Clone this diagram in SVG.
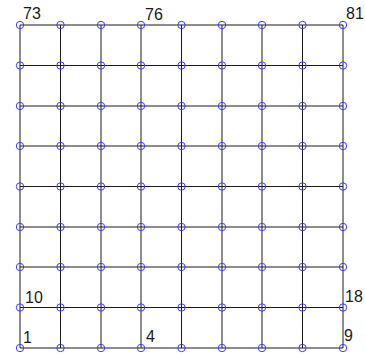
<svg xmlns="http://www.w3.org/2000/svg" width="365" height="356" viewBox="0 0 365 356">
<style>
.g{stroke:#1a1a1a;stroke-width:1;fill:none}
.n{fill:none;stroke:#3b3bff;stroke-width:1}
.t{font-family:"Liberation Sans",Arial,sans-serif;font-size:16px;fill:#1a1a1a}
</style>
<rect width="365" height="356" fill="#fff"/>
<g id="connectors">
<line class="g" x1="20" y1="25" x2="343" y2="25"/>
<line class="g" x1="20" y1="65.5" x2="343" y2="65.5"/>
<line class="g" x1="20" y1="106" x2="343" y2="106"/>
<line class="g" x1="20" y1="146" x2="343" y2="146"/>
<line class="g" x1="20" y1="186.5" x2="343" y2="186.5"/>
<line class="g" x1="20" y1="227" x2="343" y2="227"/>
<line class="g" x1="20" y1="267" x2="343" y2="267"/>
<line class="g" x1="20" y1="307.5" x2="343" y2="307.5"/>
<line class="g" x1="20" y1="348" x2="343" y2="348"/>
<line class="g" x1="20" y1="25" x2="20" y2="348"/>
<line class="g" x1="60.5" y1="25" x2="60.5" y2="348"/>
<line class="g" x1="101" y1="25" x2="101" y2="348"/>
<line class="g" x1="141" y1="25" x2="141" y2="348"/>
<line class="g" x1="181.5" y1="25" x2="181.5" y2="348"/>
<line class="g" x1="222" y1="25" x2="222" y2="348"/>
<line class="g" x1="262" y1="25" x2="262" y2="348"/>
<line class="g" x1="302.5" y1="25" x2="302.5" y2="348"/>
<line class="g" x1="343" y1="25" x2="343" y2="348"/>
</g>
<g id="nodes">
<g id="n1"><circle class="n" cx="20" cy="348" r="3.7"/><text class="t" x="23" y="343">1</text></g>
<g id="n2"><circle class="n" cx="60.5" cy="348" r="3.7"/></g>
<g id="n3"><circle class="n" cx="101" cy="348" r="3.7"/></g>
<g id="n4"><circle class="n" cx="141" cy="348" r="3.7"/><text class="t" x="146" y="342">4</text></g>
<g id="n5"><circle class="n" cx="181.5" cy="348" r="3.7"/></g>
<g id="n6"><circle class="n" cx="222" cy="348" r="3.7"/></g>
<g id="n7"><circle class="n" cx="262" cy="348" r="3.7"/></g>
<g id="n8"><circle class="n" cx="302.5" cy="348" r="3.7"/></g>
<g id="n9"><circle class="n" cx="343" cy="348" r="3.7"/><text class="t" x="344" y="341">9</text></g>
<g id="n10"><circle class="n" cx="20" cy="307.5" r="3.7"/><text class="t" x="25" y="303">10</text></g>
<g id="n11"><circle class="n" cx="60.5" cy="307.5" r="3.7"/></g>
<g id="n12"><circle class="n" cx="101" cy="307.5" r="3.7"/></g>
<g id="n13"><circle class="n" cx="141" cy="307.5" r="3.7"/></g>
<g id="n14"><circle class="n" cx="181.5" cy="307.5" r="3.7"/></g>
<g id="n15"><circle class="n" cx="222" cy="307.5" r="3.7"/></g>
<g id="n16"><circle class="n" cx="262" cy="307.5" r="3.7"/></g>
<g id="n17"><circle class="n" cx="302.5" cy="307.5" r="3.7"/></g>
<g id="n18"><circle class="n" cx="343" cy="307.5" r="3.7"/><text class="t" x="345" y="302">18</text></g>
<g id="n19"><circle class="n" cx="20" cy="267" r="3.7"/></g>
<g id="n20"><circle class="n" cx="60.5" cy="267" r="3.7"/></g>
<g id="n21"><circle class="n" cx="101" cy="267" r="3.7"/></g>
<g id="n22"><circle class="n" cx="141" cy="267" r="3.7"/></g>
<g id="n23"><circle class="n" cx="181.5" cy="267" r="3.7"/></g>
<g id="n24"><circle class="n" cx="222" cy="267" r="3.7"/></g>
<g id="n25"><circle class="n" cx="262" cy="267" r="3.7"/></g>
<g id="n26"><circle class="n" cx="302.5" cy="267" r="3.7"/></g>
<g id="n27"><circle class="n" cx="343" cy="267" r="3.7"/></g>
<g id="n28"><circle class="n" cx="20" cy="227" r="3.7"/></g>
<g id="n29"><circle class="n" cx="60.5" cy="227" r="3.7"/></g>
<g id="n30"><circle class="n" cx="101" cy="227" r="3.7"/></g>
<g id="n31"><circle class="n" cx="141" cy="227" r="3.7"/></g>
<g id="n32"><circle class="n" cx="181.5" cy="227" r="3.7"/></g>
<g id="n33"><circle class="n" cx="222" cy="227" r="3.7"/></g>
<g id="n34"><circle class="n" cx="262" cy="227" r="3.7"/></g>
<g id="n35"><circle class="n" cx="302.5" cy="227" r="3.7"/></g>
<g id="n36"><circle class="n" cx="343" cy="227" r="3.7"/></g>
<g id="n37"><circle class="n" cx="20" cy="186.5" r="3.7"/></g>
<g id="n38"><circle class="n" cx="60.5" cy="186.5" r="3.7"/></g>
<g id="n39"><circle class="n" cx="101" cy="186.5" r="3.7"/></g>
<g id="n40"><circle class="n" cx="141" cy="186.5" r="3.7"/></g>
<g id="n41"><circle class="n" cx="181.5" cy="186.5" r="3.7"/></g>
<g id="n42"><circle class="n" cx="222" cy="186.5" r="3.7"/></g>
<g id="n43"><circle class="n" cx="262" cy="186.5" r="3.7"/></g>
<g id="n44"><circle class="n" cx="302.5" cy="186.5" r="3.7"/></g>
<g id="n45"><circle class="n" cx="343" cy="186.5" r="3.7"/></g>
<g id="n46"><circle class="n" cx="20" cy="146" r="3.7"/></g>
<g id="n47"><circle class="n" cx="60.5" cy="146" r="3.7"/></g>
<g id="n48"><circle class="n" cx="101" cy="146" r="3.7"/></g>
<g id="n49"><circle class="n" cx="141" cy="146" r="3.7"/></g>
<g id="n50"><circle class="n" cx="181.5" cy="146" r="3.7"/></g>
<g id="n51"><circle class="n" cx="222" cy="146" r="3.7"/></g>
<g id="n52"><circle class="n" cx="262" cy="146" r="3.7"/></g>
<g id="n53"><circle class="n" cx="302.5" cy="146" r="3.7"/></g>
<g id="n54"><circle class="n" cx="343" cy="146" r="3.7"/></g>
<g id="n55"><circle class="n" cx="20" cy="106" r="3.7"/></g>
<g id="n56"><circle class="n" cx="60.5" cy="106" r="3.7"/></g>
<g id="n57"><circle class="n" cx="101" cy="106" r="3.7"/></g>
<g id="n58"><circle class="n" cx="141" cy="106" r="3.7"/></g>
<g id="n59"><circle class="n" cx="181.5" cy="106" r="3.7"/></g>
<g id="n60"><circle class="n" cx="222" cy="106" r="3.7"/></g>
<g id="n61"><circle class="n" cx="262" cy="106" r="3.7"/></g>
<g id="n62"><circle class="n" cx="302.5" cy="106" r="3.7"/></g>
<g id="n63"><circle class="n" cx="343" cy="106" r="3.7"/></g>
<g id="n64"><circle class="n" cx="20" cy="65.5" r="3.7"/></g>
<g id="n65"><circle class="n" cx="60.5" cy="65.5" r="3.7"/></g>
<g id="n66"><circle class="n" cx="101" cy="65.5" r="3.7"/></g>
<g id="n67"><circle class="n" cx="141" cy="65.5" r="3.7"/></g>
<g id="n68"><circle class="n" cx="181.5" cy="65.5" r="3.7"/></g>
<g id="n69"><circle class="n" cx="222" cy="65.5" r="3.7"/></g>
<g id="n70"><circle class="n" cx="262" cy="65.5" r="3.7"/></g>
<g id="n71"><circle class="n" cx="302.5" cy="65.5" r="3.7"/></g>
<g id="n72"><circle class="n" cx="343" cy="65.5" r="3.7"/></g>
<g id="n73"><circle class="n" cx="20" cy="25" r="3.7"/><text class="t" x="23" y="19">73</text></g>
<g id="n74"><circle class="n" cx="60.5" cy="25" r="3.7"/></g>
<g id="n75"><circle class="n" cx="101" cy="25" r="3.7"/></g>
<g id="n76"><circle class="n" cx="141" cy="25" r="3.7"/><text class="t" x="145" y="20">76</text></g>
<g id="n77"><circle class="n" cx="181.5" cy="25" r="3.7"/></g>
<g id="n78"><circle class="n" cx="222" cy="25" r="3.7"/></g>
<g id="n79"><circle class="n" cx="262" cy="25" r="3.7"/></g>
<g id="n80"><circle class="n" cx="302.5" cy="25" r="3.7"/></g>
<g id="n81"><circle class="n" cx="343" cy="25" r="3.7"/><text class="t" x="346" y="19">81</text></g>
</g>
</svg>
